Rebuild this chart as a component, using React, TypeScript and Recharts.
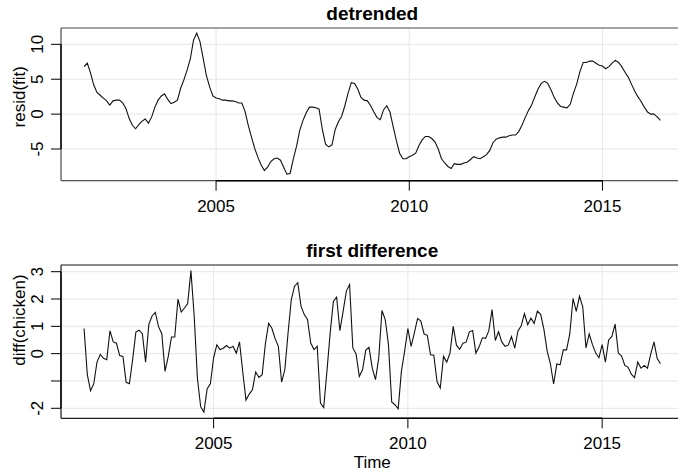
import React from "react";
import {
  LineChart,
  Line,
  XAxis,
  YAxis,
  CartesianGrid,
  ReferenceLine,
} from "recharts";

const FONT = "'Liberation Sans', Arial, Helvetica, sans-serif";

// monthly series, Aug 2001 .. Jul 2016
const startYear = 2001;
const startMonth = 8;

const xTicks = [2005, 2010, 2015];
const residTicks = [-5, 0, 5, 10];
const diffTicks = [-2, -1, 0, 1, 2, 3];

// resid(fit): chicken price minus linear trend
const resid = [
  6.8, 7.3, 5.9, 4.2, 3.1, 2.7, 2.3, 1.9, 1.3, 1.9, 2.0, 2.0, 1.6, 0.8, -0.6, -1.6,
  -2.1, -1.5, -1.0, -0.7, -1.3, -0.4, 1.0, 2.0, 2.6, 2.9, 2.1, 1.5, 1.7, 2.0, 3.7, 4.9,
  6.3, 7.9, 10.6, 11.6, 10.4, 8.0, 5.5, 3.9, 2.6, 2.3, 2.2, 2.0, 2.0, 1.9, 1.9, 1.8,
  1.6, 1.6, 0.4, -1.6, -3.3, -4.9, -6.2, -7.3, -8.1, -7.6, -6.8, -6.4, -6.3, -6.6, -7.6, -8.6,
  -8.5, -6.4, -4.6, -2.3, -0.9, 0.2, 1.0, 1.0, 0.9, 0.7, -2.2, -4.3, -4.7, -4.4, -2.2, -1.1,
  -0.3, 1.2, 3.0, 4.5, 4.4, 3.6, 2.4, 2.0, 1.9, 1.2, 0.3, -0.5, -0.8, 0.6, 1.2, 0.3,
  -1.8, -3.8, -5.6, -6.4, -6.4, -6.1, -5.9, -5.6, -4.5, -3.7, -3.2, -3.2, -3.5, -4.0, -5.0, -6.4,
  -7.0, -7.5, -7.8, -7.1, -7.2, -7.2, -7.0, -6.9, -6.5, -6.1, -6.3, -6.4, -6.1, -5.8, -5.2, -4.1,
  -3.6, -3.4, -3.3, -3.3, -3.1, -3.0, -3.0, -2.5, -1.6, -0.5, 0.5, 1.3, 2.5, 3.6, 4.4, 4.7,
  4.4, 3.5, 2.4, 1.6, 1.1, 1.0, 0.9, 1.4, 3.0, 4.3, 6.1, 7.4, 7.4, 7.6, 7.6, 7.3,
  7.0, 6.9, 6.5, 6.8, 7.3, 7.7, 7.4, 6.8, 6.0, 5.3, 4.3, 3.3, 2.5, 1.8, 1.0, 0.3,
  0.0, 0.0, -0.4, -0.9,
];

// diff(chicken): month to month change, Sep 2001 .. Jul 2016
const diffChicken = [
  0.92, -0.77, -1.36, -1.1, -0.3, -0.03, -0.17, -0.22, 0.84, 0.43, 0.38, -0.07, -0.1, -1.05, -1.1, -0.22,
  0.79, 0.86, 0.73, -0.31, 1.07, 1.38, 1.51, 0.99, 0.73, -0.65, -0.1, 0.61, 0.61, 2.0, 1.52, 1.67,
  1.83, 3.04, 1.39, -0.9, -1.94, -2.14, -1.29, -1.1, -0.15, 0.32, 0.15, 0.2, 0.3, 0.2, 0.27, 0.02,
  0.43, -0.66, -1.7, -1.48, -1.32, -0.67, -0.87, -0.77, 0.37, 1.11, 0.93, 0.55, 0.27, -1.04, -0.59, 0.76,
  1.98, 2.47, 2.6, 1.74, 1.43, 1.25, 0.39, 0.15, 0.27, -1.81, -1.97, -0.65, 0.76, 1.92, 2.07, 0.84,
  1.55, 2.29, 2.53, 0.21, -0.01, -0.83, -0.59, 0.13, 0.23, -0.53, -0.95, -0.16, 1.58, 1.25, 0.33, -1.77,
  -1.87, -2.02, -0.65, 0.09, 0.92, 0.27, 0.76, 1.29, 1.19, 0.72, 0.67, -0.04, -0.06, -1.02, -1.26, -0.1,
  -0.31, 0.02, 1.0, 0.31, 0.16, 0.38, 0.42, 0.8, 0.85, 0.02, 0.25, 0.58, 0.56, 0.84, 1.61, 0.48,
  0.8, 0.43, 0.27, 0.31, 0.63, 0.2, 0.83, 1.02, 1.47, 1.06, 1.3, 1.11, 1.56, 1.44, 0.9, 0.1,
  -0.36, -1.11, -0.38, -0.41, 0.14, 0.14, 0.72, 2.02, 1.55, 2.1, 1.71, 0.21, 0.72, 0.33, 0.02, -0.15,
  0.33, -0.31, 0.5, 0.63, 1.08, 0.02, -0.09, -0.43, -0.5, -0.75, -0.88, -0.31, -0.53, -0.43, -0.53, -0.02,
  0.43, -0.18, -0.37,
];

const residData = resid.map((v, i) => ({ t: startYear + (startMonth - 1 + i) / 12, v }));
const diffData = diffChicken.map((v, i) => ({ t: startYear + (startMonth + i) / 12, v }));

const PLOT_LEFT = 61;
const PLOT_RIGHT = 683.5;
const CHART_W = 700;
const MARGIN_TOP = 28;
const AXIS_H = 40;

interface PanelProps {
  data: { t: number; v: number }[];
  top: number;
  plotH: number;
  xDomain: [number, number];
  yDomain: [number, number];
  yTicks: number[];
  skipLabel?: number;
  boxStroke: string;
}

function Panel({ data, top, plotH, xDomain, yDomain, yTicks, skipLabel, boxStroke }: PanelProps) {
  const baseline = MARGIN_TOP + plotH + 31;
  const [x0, x1] = xDomain;
  const [y0, y1] = yDomain;

  const xTick = (props: any) => (
    <text x={props.x} y={baseline} textAnchor="middle" fontFamily={FONT} fontSize={17} fill="#000">
      {props.payload.value}
    </text>
  );

  const yTick = (props: any) => {
    if (props.payload.value === skipLabel) return <g />;
    const cx = 37.5;
    return (
      <text
        x={cx}
        y={props.y}
        dy="0.35em"
        transform={`rotate(-90 ${cx} ${props.y})`}
        textAnchor="middle"
        fontFamily={FONT}
        fontSize={17}
        fill="#000"
      >
        {props.payload.value}
      </text>
    );
  };

  // box: top, bottom and left sides (right side falls outside the picture)
  const box = [
    [{ x: x0, y: y1 }, { x: x1, y: y1 }],
    [{ x: x0, y: y0 }, { x: x1, y: y0 }],
    [{ x: x0, y: y0 }, { x: x0, y: y1 }],
  ];

  return (
    <div style={{ position: "absolute", left: 0, top }}>
      <LineChart
        width={CHART_W}
        height={MARGIN_TOP + plotH + AXIS_H}
        data={data}
        margin={{ top: MARGIN_TOP, right: CHART_W - PLOT_RIGHT, bottom: 0, left: 0 }}
      >
        <CartesianGrid stroke="#e6e6e6" strokeWidth={1} />
        <XAxis
          dataKey="t"
          type="number"
          domain={xDomain}
          allowDataOverflow
          ticks={xTicks}
          height={AXIS_H}
          tickSize={10}
          tickLine={{ stroke: "#000" }}
          axisLine={false}
          tick={xTick}
        />
        <YAxis
          type="number"
          domain={yDomain}
          allowDataOverflow
          ticks={yTicks}
          width={PLOT_LEFT}
          tickSize={10}
          tickLine={{ stroke: "#000" }}
          axisLine={false}
          tick={yTick}
        />
        {box.map((seg, k) => (
          <ReferenceLine key={k} segment={seg} stroke={boxStroke} strokeWidth={1.2} ifOverflow="visible" />
        ))}
        <ReferenceLine
          segment={[
            { x: xTicks[0], y: y0 },
            { x: xTicks[xTicks.length - 1], y: y0 },
          ]}
          stroke="#000"
          strokeWidth={1.4}
          ifOverflow="visible"
        />
        <ReferenceLine
          segment={[
            { x: x0, y: yTicks[0] },
            { x: x0, y: yTicks[yTicks.length - 1] },
          ]}
          stroke="#000"
          strokeWidth={1.4}
          ifOverflow="visible"
        />
        <Line
          dataKey="v"
          type="linear"
          stroke="#111"
          strokeWidth={1.1}
          dot={false}
          isAnimationActive={false}
        />
      </LineChart>
    </div>
  );
}

export default function App() {
  const topPlotH = 152.7;
  const botTop = 237;
  const botPlotH = 153.3;
  const midX = (PLOT_LEFT + PLOT_RIGHT) / 2;
  const topLabelY = 96.7;
  const botLabelY = 320;

  return (
    <div
      style={{
        position: "fixed",
        left: 0,
        top: 0,
        width: 678,
        height: 473,
        overflow: "hidden",
        background: "#fff",
      }}
    >
      <Panel
        data={residData}
        top={0}
        plotH={topPlotH}
        xDomain={[2000.987, 2017.097]}
        yDomain={[-9.54, 12.34]}
        yTicks={residTicks}
        boxStroke="#555"
      />
      <Panel
        data={diffData}
        top={botTop}
        plotH={botPlotH}
        xDomain={[2001.073, 2017.093]}
        yDomain={[-2.366, 3.245]}
        yTicks={diffTicks}
        skipLabel={-1}
        boxStroke="#222"
      />
      <svg
        width={678}
        height={473}
        style={{ position: "absolute", left: 0, top: 0, pointerEvents: "none" }}
      >
        <text x={midX} y={19.7} textAnchor="middle" fontFamily={FONT} fontSize={19} fontWeight="bold">
          detrended
        </text>
        <text x={midX} y={256.7} textAnchor="middle" fontFamily={FONT} fontSize={19} fontWeight="bold">
          first difference
        </text>
        <text x={midX} y={468.3} textAnchor="middle" fontFamily={FONT} fontSize={17}>
          Time
        </text>
        <text
          x={19}
          y={topLabelY}
          dy="0.35em"
          transform={`rotate(-90 19 ${topLabelY})`}
          textAnchor="middle"
          fontFamily={FONT}
          fontSize={17}
        >
          resid(fit)
        </text>
        <text
          x={19}
          y={botLabelY}
          dy="0.35em"
          transform={`rotate(-90 19 ${botLabelY})`}
          textAnchor="middle"
          fontFamily={FONT}
          fontSize={17}
        >
          diff(chicken)
        </text>
      </svg>
    </div>
  );
}
